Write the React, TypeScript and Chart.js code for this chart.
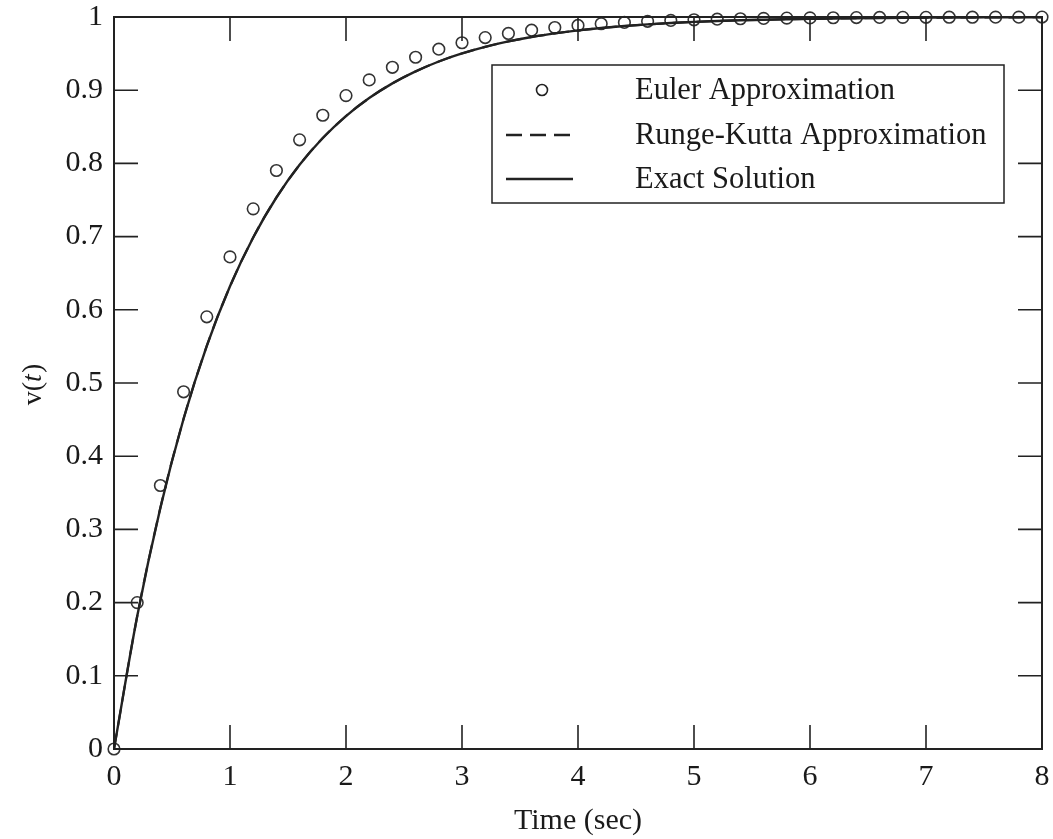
import React, { useEffect, useRef } from "react";
import { Chart, registerables } from "chart.js";

Chart.register(...registerables);

const timeSteps: number[] = [
  0, 0.2, 0.4, 0.6, 0.8, 1.0, 1.2, 1.4, 1.6, 1.8, 2.0, 2.2, 2.4, 2.6, 2.8, 3.0, 3.2, 3.4, 3.6, 3.8, 4.0,
  4.2, 4.4, 4.6, 4.8, 5.0, 5.2, 5.4, 5.6, 5.8, 6.0, 6.2, 6.4, 6.6, 6.8, 7.0, 7.2, 7.4, 7.6, 7.8, 8.0,
];

const eulerValues: number[] = [
  0, 0.2, 0.36, 0.488, 0.5904, 0.6723, 0.7379, 0.7903, 0.8322, 0.8658, 0.8926, 0.9141, 0.9313, 0.945,
  0.956, 0.9648, 0.9719, 0.9775, 0.982, 0.9856, 0.9885, 0.9908, 0.9926, 0.9941, 0.9953, 0.9962, 0.997,
  0.9976, 0.9981, 0.9985, 0.9988, 0.999, 0.9992, 0.9994, 0.9995, 0.9996, 0.9997, 0.9997, 0.9998, 0.9998,
  0.9999,
];

const rungeKuttaValues: number[] = [
  0, 0.1813, 0.3297, 0.4512, 0.5507, 0.6321, 0.6988, 0.7534, 0.7981, 0.8347, 0.8647, 0.8892, 0.9093,
  0.9257, 0.9392, 0.9502, 0.9592, 0.9666, 0.9727, 0.9776, 0.9817, 0.985, 0.9877, 0.9899, 0.9918, 0.9933,
  0.9945, 0.9955, 0.9963, 0.997, 0.9975, 0.998, 0.9983, 0.9986, 0.9989, 0.9991, 0.9993, 0.9994, 0.9995,
  0.9996, 0.9997,
];

const exactValues: number[] = [
  0, 0.1813, 0.3297, 0.4512, 0.5507, 0.6321, 0.6988, 0.7534, 0.7981, 0.8347, 0.8647, 0.8892, 0.9093,
  0.9257, 0.9392, 0.9502, 0.9592, 0.9666, 0.9727, 0.9776, 0.9817, 0.985, 0.9877, 0.9899, 0.9918, 0.9933,
  0.9945, 0.9955, 0.9963, 0.997, 0.9975, 0.998, 0.9983, 0.9986, 0.9989, 0.9991, 0.9993, 0.9994, 0.9995,
  0.9996, 0.9997,
];

const xTicks: number[] = [0, 1, 2, 3, 4, 5, 6, 7, 8];
const yTicks: number[] = [0, 0.1, 0.2, 0.3, 0.4, 0.5, 0.6, 0.7, 0.8, 0.9, 1];

const legendLabels: string[] = ["Euler Approximation", "Runge-Kutta Approximation", "Exact Solution"];
const xTitle = "Time (sec)";

const FONT = "'Liberation Serif', 'Times New Roman', serif";
const INK = "#222222";
const TXT = "#1a1a1a";

const toXY = (vals: number[]) => timeSteps.map((t, i) => ({ x: t, y: vals[i] }));

const framePlugin = {
  id: "frame",
  afterDraw(chart: any) {
    const { ctx, chartArea: a, scales } = chart;
    const xs = scales.x;
    const ys = scales.y;
    ctx.save();
    ctx.strokeStyle = INK;
    ctx.lineWidth = 2;
    ctx.strokeRect(a.left, a.top, a.right - a.left, a.bottom - a.top);
    const tl = 24;
    ctx.lineWidth = 1.6;
    ctx.beginPath();
    xTicks.forEach((v) => {
      const px = xs.getPixelForValue(v);
      ctx.moveTo(px, a.bottom);
      ctx.lineTo(px, a.bottom - tl);
      ctx.moveTo(px, a.top);
      ctx.lineTo(px, a.top + tl);
    });
    yTicks.forEach((v) => {
      const py = ys.getPixelForValue(v);
      ctx.moveTo(a.left, py);
      ctx.lineTo(a.left + tl, py);
      ctx.moveTo(a.right, py);
      ctx.lineTo(a.right - tl, py);
    });
    ctx.stroke();

    // y title v(t)
    ctx.fillStyle = TXT;
    ctx.translate(34, (a.top + a.bottom) / 2 + 2);
    ctx.rotate(-Math.PI / 2);
    ctx.textBaseline = "middle";
    const p1 = "v(";
    ctx.font = `28px ${FONT}`;
    const w1 = ctx.measureText(p1).width;
    ctx.font = `italic 28px ${FONT}`;
    const w2 = ctx.measureText("t").width;
    ctx.font = `28px ${FONT}`;
    const w3 = ctx.measureText(")").width;
    let sx = -(w1 + w2 + w3) / 2;
    ctx.textAlign = "left";
    ctx.fillText(p1, sx, 0);
    sx += w1;
    ctx.font = `italic 28px ${FONT}`;
    ctx.fillText("t", sx, 0);
    sx += w2 + 1;
    ctx.font = `28px ${FONT}`;
    ctx.fillText(")", sx, 0);
    ctx.restore();

    // legend
    ctx.save();
    const bx = 492, by = 65, bw = 512, bh = 138;
    ctx.fillStyle = "#ffffff";
    ctx.fillRect(bx, by, bw, bh);
    ctx.strokeStyle = INK;
    ctx.lineWidth = 1.5;
    ctx.strokeRect(bx, by, bw, bh);
    const rows = [90, 135, 179];
    ctx.fillStyle = TXT;
    ctx.font = `30.5px ${FONT}`;
    ctx.textBaseline = "middle";
    ctx.textAlign = "left";
    legendLabels.forEach((lab, i) => ctx.fillText(lab, 635, rows[i] + 1));
    ctx.beginPath();
    ctx.lineWidth = 1.6;
    ctx.arc(542, rows[0], 5.5, 0, Math.PI * 2);
    ctx.stroke();
    ctx.lineWidth = 2.4;
    ctx.setLineDash([16, 8]);
    ctx.beginPath();
    ctx.moveTo(506, rows[1]);
    ctx.lineTo(570, rows[1]);
    ctx.stroke();
    ctx.setLineDash([]);
    ctx.beginPath();
    ctx.moveTo(506, rows[2]);
    ctx.lineTo(573, rows[2]);
    ctx.stroke();
    ctx.restore();
  },
};

export default function App() {
  const ref = useRef<HTMLCanvasElement | null>(null);
  useEffect(() => {
    document.body.style.margin = "0";
    const canvas = ref.current;
    if (!canvas) return;
    const chart = new Chart(canvas, {
      type: "scatter",
      data: {
        datasets: [
          {
            label: "Runge-Kutta Approximation",
            data: toXY(rungeKuttaValues),
            showLine: true,
            borderColor: INK,
            borderWidth: 2.2,
            borderDash: [16, 8],
            pointRadius: 0,
            cubicInterpolationMode: "monotone",
          },
          {
            label: "Exact Solution",
            data: toXY(exactValues),
            showLine: true,
            borderColor: INK,
            borderWidth: 2.4,
            pointRadius: 0,
            cubicInterpolationMode: "monotone",
          },
          {
            label: "Euler Approximation",
            data: toXY(eulerValues),
            showLine: false,
            pointRadius: 5.8,
            pointBorderWidth: 1.6,
            pointBorderColor: "#333333",
            pointBackgroundColor: "rgba(0,0,0,0)",
            clip: false,
          } as any,
        ],
      },
      options: {
        animation: false,
        responsive: false,
        layout: { padding: { top: 17, right: 11, left: 0, bottom: 0 } },
        plugins: { legend: { display: false }, tooltip: { enabled: false } },
        scales: {
          x: {
            type: "linear",
            min: 0,
            max: 8,
            grid: { display: true, drawOnChartArea: false, drawTicks: false, color: "rgba(0,0,0,0)" },
            border: { display: false },
            afterBuildTicks: (s: any) => {
              s.ticks = xTicks.map((v) => ({ value: v }));
            },
            afterFit: (s: any) => {
              s.height = 90;
              s.paddingLeft = 0;
              s.paddingRight = 0;
            },
            ticks: {
              color: TXT,
              font: { family: FONT, size: 30 },
              padding: 10,
              maxRotation: 0,
              autoSkip: false,
              callback: (v: any) => String(v),
            },
            title: {
              display: true,
              text: xTitle,
              color: TXT,
              font: { family: FONT, size: 30 },
              padding: { top: 8, bottom: 0 },
            },
          },
          y: {
            type: "linear",
            min: 0,
            max: 1,
            grid: { display: true, drawOnChartArea: false, drawTicks: false, color: "rgba(0,0,0,0)" },
            border: { display: false },
            afterBuildTicks: (s: any) => {
              s.ticks = yTicks.map((v) => ({ value: v }));
            },
            afterFit: (s: any) => {
              s.width = 114;
              s.paddingTop = 0;
              s.paddingBottom = 0;
            },
            ticks: {
              color: TXT,
              font: { family: FONT, size: 30 },
              padding: 11,
              autoSkip: false,
              callback: (v: any) => String(Math.round(Number(v) * 10) / 10),
            },
          },
        },
      },
      plugins: [framePlugin],
    } as any);
    return () => chart.destroy();
  }, []);
  return <canvas ref={ref} width={1053} height={839} style={{ display: "block", width: 1053, height: 839 }} />;
}
